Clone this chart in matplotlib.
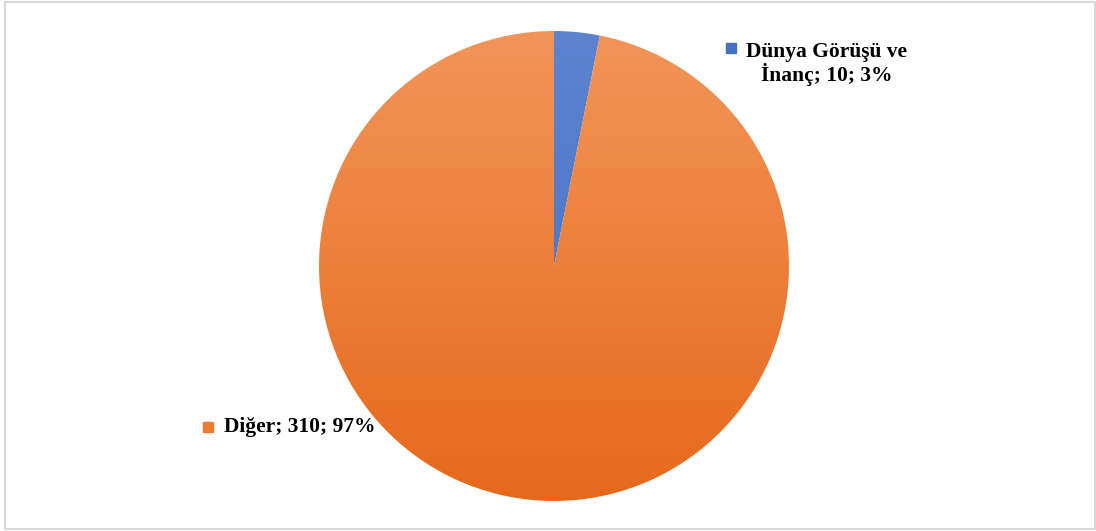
import numpy as np
import matplotlib.pyplot as plt
from matplotlib.colors import LinearSegmentedColormap
from matplotlib.patches import Rectangle

plt.rcParams['font.family'] = ['Liberation Serif', 'DejaVu Serif']

labels = ['Dünya Görüşü ve\nİnanç', 'Diğer']
values = [10, 310]
top_colors = ['#5E84D0', '#F29559']
bottom_colors = ['#3F6CBE', '#E6691B']
key_colors = ['#4472C4', '#ED7D31']

W, H = 1096, 531
fig = plt.figure(figsize=(W / 100, H / 100), dpi=100)
ax = fig.add_axes([0, 0, 1, 1])
ax.set_xlim(0, W)
ax.set_ylim(0, H)
ax.set_aspect('equal')
ax.axis('off')

cx, cy, r = 554, 265, 235
wedges, _ = ax.pie(values, startangle=90, counterclock=False,
                   center=(cx, cy), radius=r, frame=True,
                   wedgeprops=dict(linewidth=0))

# vertical gradient fill inside each wedge
for w, c0, c1 in zip(wedges, top_colors, bottom_colors):
    w.set_facecolor('none')
    cmap = LinearSegmentedColormap.from_list('g', [c1, c0])
    grad = np.linspace(0, 1, 256).reshape(-1, 1)
    im = ax.imshow(grad, cmap=cmap, origin='lower', aspect='auto',
                   extent=[cx - r, cx + r, cy - r, cy + r], zorder=1)
    im.set_clip_path(w)

ax.set_xlim(0, W)
ax.set_ylim(0, H)
ax.axis('off')

total = sum(values)
pct = [round(v / total * 100) for v in values]
texts = [f'{l}; {v}; {p}%' for l, v, p in zip(labels, values, pct)]

# data labels with legend keys
ax.add_patch(Rectangle((726, 478), 10, 10, color=key_colors[0], zorder=3))
ax.text(827, 489, texts[0], ha='center', va='top', fontsize=15.5,
        fontweight='bold', linespacing=1.05, zorder=3)
ax.add_patch(Rectangle((203, 99), 10, 10, color=key_colors[1], zorder=3))
ax.text(224, 104, texts[1], ha='left', va='center', fontsize=15.5,
        fontweight='bold', zorder=3)

# chart area border
fig.patches.append(Rectangle((5 / W, 2 / H), (W - 6) / W, (H - 4) / H,
                             transform=fig.transFigure, fill=False,
                             edgecolor='#D9D9D9', linewidth=1.5))

fig.savefig('out.png', dpi=100)
